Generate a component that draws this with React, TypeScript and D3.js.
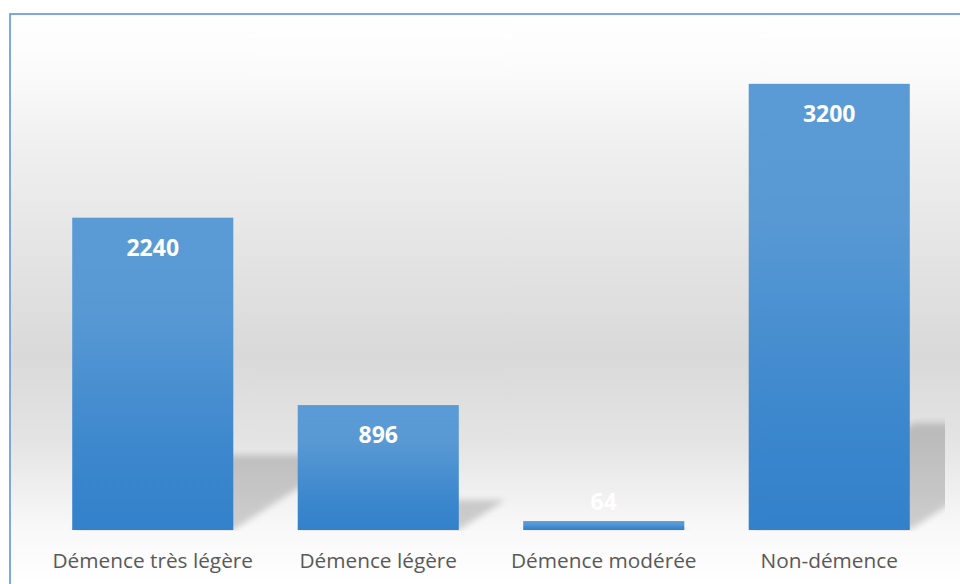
import React from "react";
import * as d3 from "d3";

const categories = ["Démence très légère", "Démence légère", "Démence modérée", "Non-démence"];
const counts = [2240, 896, 64, 3200];

const W = 960;
const H = 584;
const baseY = 530;

const App = () => {
  const x = d3
    .scaleBand<string>()
    .domain(categories)
    .range([40, 942])
    .paddingInner(0.2857)
    .paddingOuter(0.1429);
  const y = d3.scaleLinear().domain([0, 3500]).range([baseY, 42]);

  // perspective shadow lying on the floor behind each bar
  const shadowPath = (c: string, v: number) => {
    const x0 = x(c) as number;
    const x1 = x0 + x.bandwidth();
    const h = baseY - y(v);
    const dy = h * 0.24;
    const dx = h * 0.37;
    const p = d3.path();
    p.moveTo(x0, baseY);
    p.lineTo(x1, baseY);
    p.lineTo(x1 + dx, baseY - dy);
    p.lineTo(x0 + dx, baseY - dy);
    p.closePath();
    return p.toString();
  };

  return (
    <svg
      width={W}
      height={H}
      style={{ position: "absolute", left: 0, top: 0, display: "block" }}
    >
      <defs>
        <linearGradient id="bg" gradientUnits="userSpaceOnUse" x1="0" y1="14" x2="0" y2="584">
          <stop offset="0" stopColor="#ffffff" />
          <stop offset="0.1" stopColor="#fbfbfb" />
          <stop offset="0.24" stopColor="#efefef" />
          <stop offset="0.6" stopColor="#d9d9d9" />
          <stop offset="0.75" stopColor="#e4e4e4" />
          <stop offset="0.9" stopColor="#f8f8f8" />
          <stop offset="1" stopColor="#ffffff" />
        </linearGradient>
        <linearGradient id="bar" x1="0" y1="0" x2="0" y2="1">
          <stop offset="0" stopColor="#5b9bd5" />
          <stop offset="0.3" stopColor="#5899d4" />
          <stop offset="0.75" stopColor="#3c87cd" />
          <stop offset="1" stopColor="#3381cb" />
        </linearGradient>
        <filter id="blur" x="-20%" y="-20%" width="140%" height="140%">
          <feGaussianBlur stdDeviation="3" />
        </filter>
        <clipPath id="plot">
          <rect x={20} y={20} width={925} height={baseY - 19} />
        </clipPath>
      </defs>

      <rect x={10} y={14} width={W} height={H} fill="url(#bg)" stroke="#6a9fd8" strokeWidth={1.75} />

      <g clipPath="url(#plot)">
        {categories.map((c, i) => (
          <path key={c} d={shadowPath(c, counts[i])} fill="#000" opacity={0.17} filter="url(#blur)" />
        ))}
      </g>

      {categories.map((c, i) => (
        <rect
          key={c}
          x={x(c)}
          y={y(counts[i])}
          width={x.bandwidth()}
          height={baseY - y(counts[i])}
          fill="url(#bar)"
        />
      ))}

      {categories.map((c, i) => {
        const top = y(counts[i]);
        const ly = baseY - top < 50 ? top - 11 : top + 38;
        return (
          <text
            key={c}
            x={(x(c) as number) + x.bandwidth() / 2}
            y={ly}
            textAnchor="middle"
            fill="#ffffff"
            fontFamily="'Open Sans', sans-serif"
            fontWeight="bold"
            fontSize={23}
          >
            {counts[i]}
          </text>
        );
      })}

      {categories.map(c => (
        <text
          key={c}
          x={(x(c) as number) + x.bandwidth() / 2}
          y={568}
          textAnchor="middle"
          fill="#595959"
          fontFamily="'Open Sans', sans-serif"
          fontSize={20.8}
        >
          {c}
        </text>
      ))}
    </svg>
  );
};

export default App;
